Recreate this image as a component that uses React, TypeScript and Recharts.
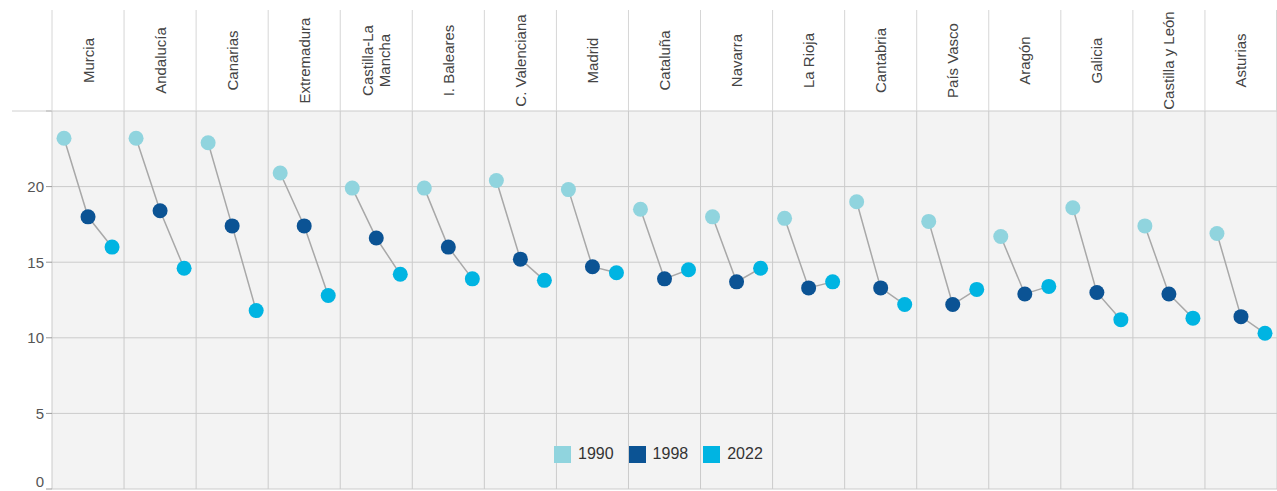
import {
  CartesianGrid,
  ComposedChart,
  Legend,
  Line,
  XAxis,
  YAxis,
} from "recharts";

const regions = [
  "Murcia",
  "Andalucía",
  "Canarias",
  "Extremadura",
  "Castilla-La Mancha",
  "I. Baleares",
  "C. Valenciana",
  "Madrid",
  "Cataluña",
  "Navarra",
  "La Rioja",
  "Cantabria",
  "País Vasco",
  "Aragón",
  "Galicia",
  "Castilla y León",
  "Asturias",
];

const values1990 = [
  23.2, 23.2, 22.9, 20.9, 19.9, 19.9, 20.4, 19.8, 18.5, 18.0, 17.9, 19.0, 17.7,
  16.7, 18.6, 17.4, 16.9,
];
const values1998 = [
  18.0, 18.4, 17.4, 17.4, 16.6, 16.0, 15.2, 14.7, 13.9, 13.7, 13.3, 13.3, 12.2,
  12.9, 13.0, 12.9, 11.4,
];
const values2022 = [
  16.0, 14.6, 11.8, 12.8, 14.2, 13.9, 13.8, 14.3, 14.5, 14.6, 13.7, 12.2, 13.2,
  13.4, 11.2, 11.3, 10.3,
];

const years = ["1990", "1998", "2022"];
const yearColors = ["#90d4de", "#0b5394", "#00b4e2"];
const yTicks = [0, 5, 10, 15, 20, 25];

const FONT = "'Liberation Sans', Arial, Helvetica, sans-serif";
const W = 1277;
const H = 491;
const MARGIN = { top: 10, right: 0, bottom: 1, left: 0 };
const Y_AXIS_W = 52;
const HEADER_H = 101;
const COL_W = (W - MARGIN.left - MARGIN.right - Y_AXIS_W) / regions.length;

// each region is one column of 3 slots; a null row closes the column so lines don't join
const seriesValues = [values1990, values1998, values2022];
const rows: Record<string, number | null>[] = [];
regions.forEach((_, i) => {
  seriesValues.forEach((vals, j) => {
    const row: Record<string, number | null> = { x: i * 3 + j + 0.5, value: vals[i] };
    years.forEach((y, k) => {
      row["y" + y] = k === j ? vals[i] : null;
    });
    rows.push(row);
  });
  rows.push({ x: i * 3 + 3, value: null, y1990: null, y1998: null, y2022: null });
});

const boundaries = regions.map((_, i) => i * 3).concat([regions.length * 3]);
const centers = regions.map((_, i) => i * 3 + 1.5);

// long names wrap onto two lines at the last space
function splitLabel(name: string) {
  if (name.length <= 15) return [name];
  const cut = name.lastIndexOf(" ");
  return [name.slice(0, cut), name.slice(cut + 1)];
}

function EmptyTick() {
  return <g />;
}

function RegionTick(props: any) {
  const { x, index } = props;
  const name = regions[index] ?? "";
  const lines = splitLabel(name);
  const top = MARGIN.top;
  const bottom = MARGIN.top + HEADER_H;
  const cy = (top + bottom) / 2;
  const left = x - COL_W / 2;
  return (
    <g>
      <line x1={left} x2={left} y1={top} y2={bottom} stroke="#d6d6d6" />
      {index === regions.length - 1 && (
        <line x1={x + COL_W / 2 - 0.5} x2={x + COL_W / 2 - 0.5} y1={top} y2={bottom} stroke="#d6d6d6" />
      )}
      {lines.map((t, k) => {
        const lx = x + (k - (lines.length - 1) / 2) * 17;
        return (
          <text
            key={k}
            x={lx}
            y={cy}
            transform={`rotate(-90, ${lx}, ${cy})`}
            textAnchor="middle"
            dominantBaseline="central"
            fontSize={15}
            fill="#444"
            fontFamily={FONT}
          >
            {t}
          </text>
        );
      })}
    </g>
  );
}

function ValueTick(props: any) {
  const { x, y, payload } = props;
  if (payload.value === 25) {
    return <line x1={x - 32} x2={x + 8} y1={y} y2={y} stroke="#d0d0d0" />;
  }
  const dy = payload.value === 0 ? -8 : 0;
  return (
    <text
      x={x}
      y={y + dy}
      textAnchor="end"
      dominantBaseline="central"
      fontSize={15}
      fill="#555"
      fontFamily={FONT}
    >
      {payload.value}
    </text>
  );
}

function YearLegend(props: any) {
  const items = (props.payload || []).filter((p: any) => p.type !== "none");
  return (
    <div style={{ display: "flex", fontFamily: FONT, fontSize: 16, color: "#333" }}>
      {items.map((p: any) => (
        <div key={p.value} style={{ display: "flex", alignItems: "center", marginRight: 15 }}>
          <span
            style={{ width: 17, height: 17, background: p.color, marginRight: 7, display: "inline-block" }}
          />
          <span>{p.value}</span>
        </div>
      ))}
    </div>
  );
}

export default function App() {
  return (
    <div style={{ position: "absolute", left: 0, top: 0, width: W, height: H, background: "#fff" }}>
      <ComposedChart width={W} height={H} data={rows} margin={MARGIN}>
        <CartesianGrid stroke="#cbcbcb" fill="#f3f3f3" strokeWidth={1} />
        <XAxis
          dataKey="x"
          type="number"
          domain={[0, regions.length * 3]}
          ticks={boundaries}
          interval={0}
          height={1}
          tick={<EmptyTick />}
          tickLine={false}
          axisLine={false}
        />
        <XAxis
          xAxisId="labels"
          orientation="top"
          dataKey="x"
          type="number"
          domain={[0, regions.length * 3]}
          ticks={centers}
          interval={0}
          height={HEADER_H}
          tick={<RegionTick />}
          tickLine={false}
          axisLine={false}
        />
        <YAxis
          type="number"
          domain={[0, 25]}
          ticks={yTicks}
          width={Y_AXIS_W}
          tickSize={6}
          tickMargin={2}
          tick={<ValueTick />}
          tickLine={{ stroke: "#999" }}
          axisLine={false}
          interval={0}
        />
        <Legend
          verticalAlign="top"
          align="left"
          content={<YearLegend />}
          wrapperStyle={{ top: 445, left: 554, width: "auto", height: 0, overflow: "visible" }}
        />
        <Line
          dataKey="value"
          stroke="#a8a8a8"
          strokeWidth={1.5}
          dot={false}
          activeDot={false}
          legendType="none"
          isAnimationActive={false}
        />
        {years.map((y, k) => (
          <Line
            key={y}
            name={y}
            dataKey={"y" + y}
            stroke={yearColors[k]}
            strokeWidth={0}
            dot={{ r: 7.5, fill: yearColors[k], stroke: "none" }}
            activeDot={false}
            legendType="square"
            isAnimationActive={false}
          />
        ))}
      </ComposedChart>
    </div>
  );
}
